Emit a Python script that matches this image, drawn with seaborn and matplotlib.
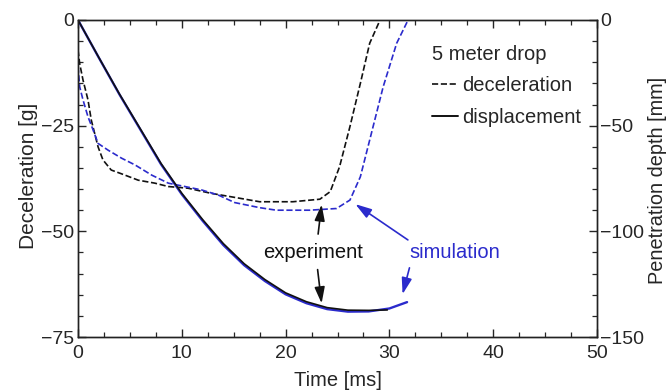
import matplotlib
matplotlib.use("Agg")
import matplotlib.pyplot as plt
from matplotlib.lines import Line2D
from matplotlib.ticker import MultipleLocator
import seaborn as sns

# deceleration [g] (left axis)
t_dec_exp = [0, 0.16, 0.48, 0.96, 1.28, 1.6, 1.93, 2.4, 3.2, 4.2, 5.8, 7.4, 8.7, 10.6, 12.8, 15.4, 17.5, 20.7, 23.3, 24.3, 25.2, 26.2, 27.2, 28.1, 29.1]
g_dec_exp = [-7.1, -10.3, -14.2, -18.9, -23.7, -26.8, -30.0, -33.1, -35.5, -36.4, -37.9, -38.6, -39.4, -39.8, -41.0, -42.1, -43.0, -43.0, -42.4, -40.6, -34.7, -25.2, -15.0, -5.5, 0.0]
t_dec_sim = [0, 0.16, 0.48, 0.96, 1.45, 1.93, 2.9, 4.2, 5.5, 7.1, 8.7, 10.3, 11.9, 13.5, 15.1, 17.5, 19.1, 22.3, 24.9, 26.2, 27.2, 28.1, 29.4, 30.7, 31.8]
g_dec_sim = [-11.0, -15.8, -18.9, -22.9, -26.0, -29.2, -30.8, -32.7, -34.3, -36.7, -38.6, -39.4, -40.2, -41.4, -43.2, -44.4, -45.0, -45.0, -44.6, -42.6, -37.1, -28.4, -15.8, -5.5, 0.0]

# penetration depth [mm] (right axis)
t_disp_sim = [0, 2, 4, 6, 8, 10, 12, 14, 16, 18, 20, 22, 24, 26, 28, 30, 31.7]
d_disp_sim = [0, -17.8, -35.3, -51.8, -68.3, -82.5, -95.0, -106.5, -116.0, -123.5, -129.8, -134.0, -136.8, -138.0, -137.9, -136.5, -133.5]
t_disp_exp = [0, 2, 4, 6, 8, 10, 12, 14, 16, 18, 20, 22, 24, 26, 28, 29.8]
d_disp_exp = [0, -17.7, -35.1, -51.5, -67.9, -82.0, -94.4, -105.8, -115.3, -122.8, -129.1, -133.3, -136.1, -137.3, -137.4, -137.2]

BLUE = "#2b2bcc"
BLACK = "#111111"

sns.set_style("ticks")
plt.rcParams["font.family"] = ["Liberation Sans", "DejaVu Sans"]
plt.rcParams["font.size"] = 14

fig = plt.figure(figsize=(6.72, 3.92), dpi=100)
ax = fig.add_axes([0.1161, 0.1403, 0.7723, 0.8087])
ax2 = ax.twinx()

sns.lineplot(x=t_dec_exp, y=g_dec_exp, ax=ax, color=BLACK, linestyle="--", lw=1.2, sort=False)
sns.lineplot(x=t_dec_sim, y=g_dec_sim, ax=ax, color=BLUE, linestyle="--", lw=1.2, sort=False)
sns.lineplot(x=t_disp_sim, y=d_disp_sim, ax=ax2, color=BLUE, lw=1.7, sort=False)
sns.lineplot(x=t_disp_exp, y=d_disp_exp, ax=ax2, color=BLACK, lw=1.2, sort=False)

ax.set_xlim(0, 50)
ax.set_ylim(-75, 0)
ax2.set_ylim(-150, 0)
ax.xaxis.set_major_locator(MultipleLocator(10))
ax.xaxis.set_minor_locator(MultipleLocator(2.5))
ax.yaxis.set_major_locator(MultipleLocator(25))
ax.yaxis.set_minor_locator(MultipleLocator(5))
ax2.yaxis.set_major_locator(MultipleLocator(50))
ax2.yaxis.set_minor_locator(MultipleLocator(10))

for a in (ax, ax2):
    a.tick_params(which="major", direction="in", length=6, width=1, labelsize=14)
    a.tick_params(which="minor", direction="in", length=3.5, width=0.9)
    for s in a.spines.values():
        s.set_visible(True)
        s.set_linewidth(1.0)
        s.set_color("#222222")
ax.tick_params(which="both", top=True, right=False)
ax.tick_params(axis="x", pad=5.5)
ax.tick_params(axis="y", pad=3)
ax2.tick_params(axis="y", pad=2)

ax.set_xlabel("Time [ms]", fontsize=14.5)
ax.xaxis.set_label_coords(0.5, -0.106)
ax.set_ylabel("Deceleration [g]", fontsize=15)
ax.yaxis.set_label_coords(-0.077, 0.508)
ax2.set_ylabel("Penetration depth [mm]", fontsize=14.3)
ax2.yaxis.set_label_coords(1.098, 0.495)

handles = [Line2D([], [], color=BLACK, linestyle="--", lw=1.2),
           Line2D([], [], color=BLACK, lw=1.4)]
leg = ax.legend(handles, ["deceleration", "displacement"], title="5 meter drop",
                loc="upper left", bbox_to_anchor=(0.663, 0.953), frameon=False,
                fontsize=14.5, title_fontsize=14.5, handlelength=1.3,
                handletextpad=0.2, labelspacing=0.62, borderpad=0,
                alignment="left")

# annotations
arrow_k = dict(arrowstyle="-|>,head_length=0.7,head_width=0.22", color=BLACK, lw=1.2, mutation_scale=14)
arrow_b = dict(arrowstyle="-|>,head_length=0.7,head_width=0.22", color=BLUE, lw=1.2, mutation_scale=14)
ax.text(22.6, -55.1, "experiment", ha="center", va="center", fontsize=14.5, color=BLACK)
ax.annotate("", xy=(23.5, -43.0), xytext=(23.1, -51.3), arrowprops=arrow_k)
ax2.annotate("", xy=(23.5, -135.4), xytext=(23.05, -58.4),
             textcoords=ax.transData, arrowprops=arrow_k)
ax.text(36.3, -55.1, "simulation", ha="center", va="center", fontsize=14.5, color=BLUE)
ax.annotate("", xy=(26.5, -43.2), xytext=(32.0, -52.4), arrowprops=arrow_b)
ax2.annotate("", xy=(31.2, -131.0), xytext=(32.0, -58.0),
             textcoords=ax.transData, arrowprops=arrow_b)

fig.savefig("out.png", dpi=100)
